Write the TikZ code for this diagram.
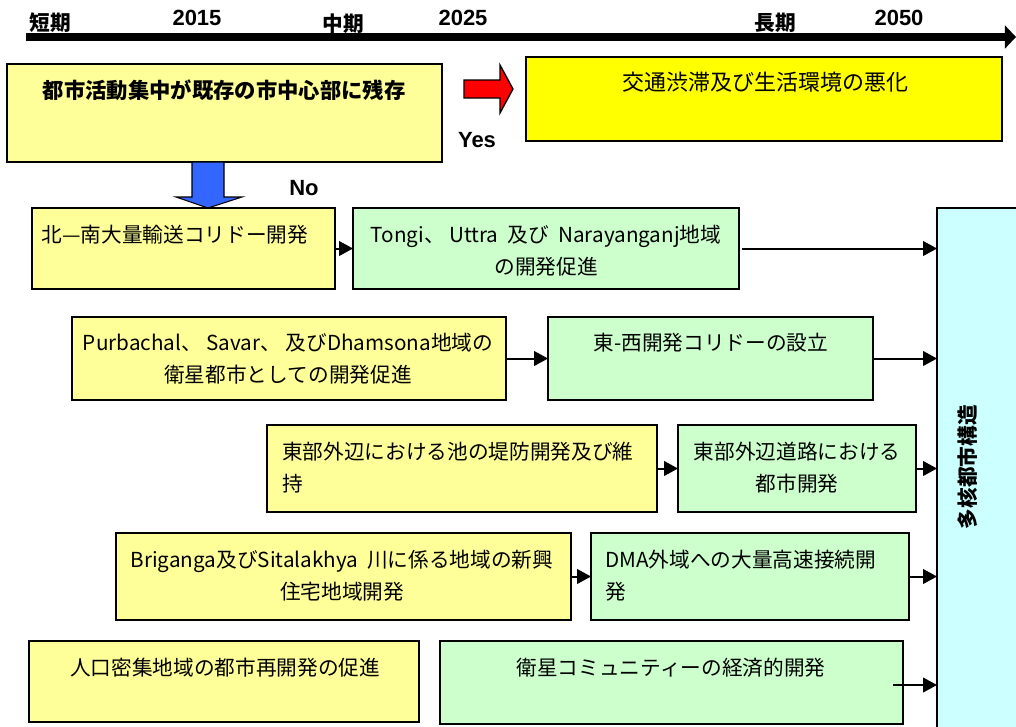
\documentclass[tikz,border=0pt]{standalone}
\usepackage{fontspec}
\setmainfont{Noto Sans CJK JP}
\newfontfamily\lat{Liberation Sans}
\usetikzlibrary{arrows.meta,fit}
\definecolor{ylw}{HTML}{FFFF99}
\definecolor{grn}{HTML}{CCFFCC}
\definecolor{cyn}{HTML}{CCFFFF}
\definecolor{yel}{HTML}{FFFF00}
\definecolor{blu}{HTML}{3366FF}
\definecolor{rd}{HTML}{FF0000}
\begin{document}
\begin{tikzpicture}[x=0.75pt,y=-0.75pt,
 bx/.style={draw=black, line width=2.2pt, inner sep=0pt, outer sep=0pt},
 ybox/.style={bx, fill=ylw},
 gbox/.style={bx, fill=grn},
 txt/.style={inner sep=0pt, font=\fontsize{15.5}{24}\selectfont},
 ctxt/.style={txt, align=center},
 ltxt/.style={txt, align=left, anchor=west},
 conn/.style={line width=1.5pt, -{Triangle[length=10.5pt,width=11pt]}},
 tl/.style={inner sep=0pt, font=\fontsize{15.5}{18}\selectfont\bfseries},
 yr/.style={inner sep=0pt, font=\lat\fontsize{16.5}{18}\selectfont\bfseries},
]
\useasboundingbox (0,0) rectangle (1016,726);
\clip (0,0) rectangle (1016,726);

% timeline
\coordinate (tl0) at (26,37);
\coordinate (tl1) at (1016,37);
\draw[line width=6pt, -{Triangle[length=8.3pt,width=17pt]}] (tl0) -- (tl1);
\node[tl] (s1) at (50,23) {短期};
\node[yr] (y1) at (197,17.5) {2015};
\node[tl] (s2) at (343,24) {中期};
\node[yr] (y2) at (463,17.5) {2025};
\node[tl] (s3) at (775,23) {長期};
\node[yr] (y3) at (899,17.5) {2050};

% top boxes
\node[ybox, fit={(7,64)(442,162)}] (a) {};
\node[txt, font=\fontsize{16}{24}\selectfont\bfseries] (at) at (224,90) {都市活動集中が既存の市中心部に残存};
\node[bx, fill=yel, fit={(526,57)(1002,141)}] (b) {};
\node[txt, font=\fontsize{16.5}{24}\selectfont] (bt) at (765,82) {交通渋滞及び生活環境の悪化};

\draw[fill=rd, line width=1pt] (464,80) -- (500,80) -- (500,65) -- (513,89) -- (500,113) -- (500,98) -- (464,98) -- cycle;
\node[yr] (yes) at (477,140) {Yes};
\draw[fill=blu, line width=0.8pt] (192,162) -- (224,162) -- (224,197) -- (242,197) -- (208,208) -- (176,197) -- (192,197) -- cycle;
\node[yr] (no) at (304,188) {No};

% right box
\node[bx, fill=cyn, fit={(937,208)(1040,760)}] (m) {};
\node[tl, rotate=90, font=\fontsize{15.5}{18}\selectfont\bfseries] (mt) at (968,467) {多核都市構造};

% row 1
\node[ybox, fit={(32,208)(335,289)}] (r1a) {};
\node[txt] (t1a) at (175,235) {北—南大量輸送コリドー開発};
\node[gbox, fit={(353,208)(739,289)}] (r1b) {};
\node[ctxt] (t1b) at (546,251) {Tongi、 Uttra \ 及び \ Narayanganj地域\\の開発促進};
\draw[conn] (r1a) -- (r1b);
\draw[conn] ([xshift=2.5pt]r1b.east) -- (r1b.east -| m.west);

% row 2
\node[ybox, fit={(72,317)(506,400)}] (r2a) {};
\node[ctxt] (t2a) at (288,359) {Purbachal、 Savar、 及びDhamsona地域の\\衛星都市としての開発促進};
\node[gbox, fit={(548,317)(873,400)}] (r2b) {};
\node[txt] (t2b) at (711,343) {東-西開発コリドーの設立};
\draw[conn] (r2a) -- (r2b);
\draw[conn] (r2b.east) -- (r2b.east -| m.west);

% row 3
\node[ybox, fit={(267,425)(657,512)}] (r3a) {};
\node[ltxt] (t3a) at (282,467.5) {東部外辺における池の堤防開発及び維\\持};
\node[gbox, fit={(678,425)(916,512)}] (r3b) {};
\node[ctxt] (t3b) at (797,467.5) {東部外辺道路における\\都市開発};
\draw[conn] (r3a) -- (r3b);
\draw[conn] (r3b.east) -- (r3b.east -| m.west);

% row 4
\node[ybox, fit={(116,533)(571,620)}] (r4a) {};
\node[ctxt] (t4a) at (342,576) {Briganga及びSitalakhya \ 川に係る地域の新興\\住宅地域開発};
\node[gbox, fit={(591,533)(909,620)}] (r4b) {};
\node[ltxt] (t4b) at (605,576) {DMA外域への大量高速接続開\\発};
\draw[conn] (r4a) -- (r4b);
\draw[conn] (r4b.east) -- (r4b.east -| m.west);

% row 5
\node[ybox, fit={(29,641)(419,722)}] (r5a) {};
\node[txt] (t5a) at (225,668) {人口密集地域の都市再開発の促進};
\node[gbox, fit={(440,641)(903,724)}] (r5b) {};
\node[txt] (t5b) at (671,668) {衛星コミュニティーの経済的開発};
\coordinate (c5) at (893,685);
\draw[conn] (c5) -- (c5 -| m.west);
\end{tikzpicture}
\end{document}
